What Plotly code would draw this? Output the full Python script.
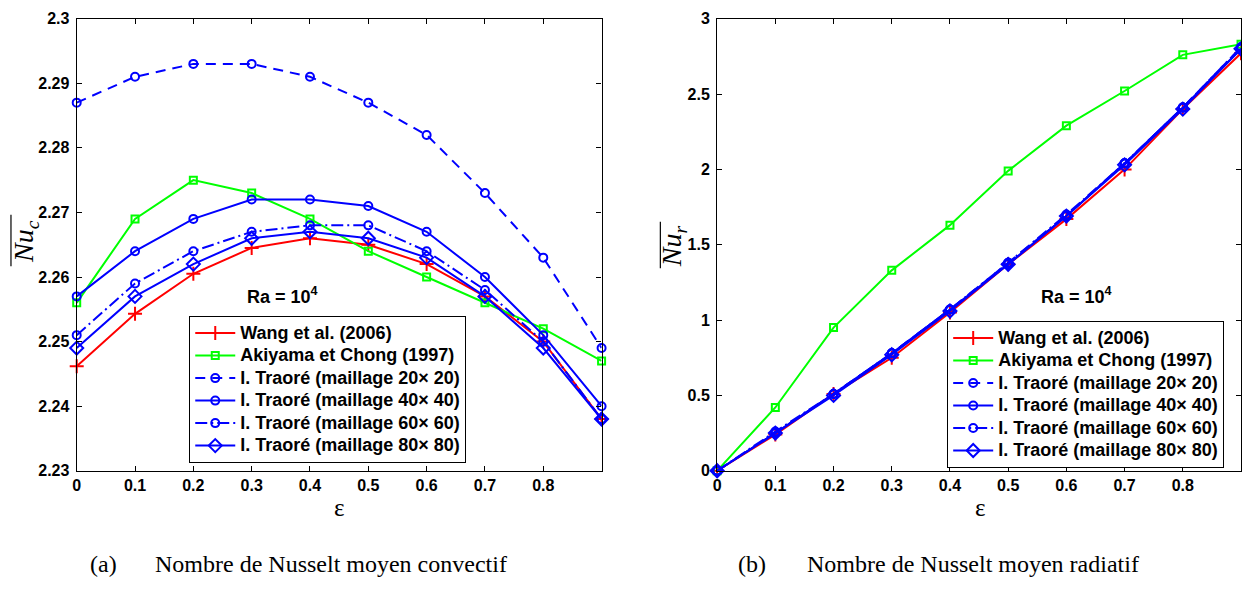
import plotly.graph_objects as go

# ---------------- data ----------------
eps = [0.0, 0.1, 0.2, 0.3, 0.4, 0.5, 0.6, 0.7, 0.8, 0.9]

series_names = [
    "Wang et al. (2006)",
    "Akiyama et Chong (1997)",
    "I. Traoré (maillage 20× 20)",
    "I. Traoré (maillage 40× 40)",
    "I. Traoré (maillage 60× 60)",
    "I. Traoré (maillage 80× 80)",
]

# (a) convective mean Nusselt number
wang_c = [2.2462, 2.2543, 2.2605, 2.2645, 2.2660, 2.2650, 2.2620, 2.2570, 2.2500, 2.2380]
akiyama_c = [2.256, 2.269, 2.275, 2.273, 2.269, 2.264, 2.260, 2.256, 2.252, 2.247]
t20_c = [2.287, 2.291, 2.293, 2.293, 2.291, 2.287, 2.282, 2.273, 2.263, 2.249]
t40_c = [2.257, 2.264, 2.269, 2.272, 2.272, 2.271, 2.267, 2.260, 2.251, 2.240]
t60_c = [2.251, 2.259, 2.264, 2.267, 2.268, 2.268, 2.264, 2.258, 2.250, 2.238]
t80_c = [2.249, 2.257, 2.262, 2.266, 2.267, 2.266, 2.263, 2.257, 2.249, 2.238]

# (b) radiative mean Nusselt number
wang_r = [0.0, 0.24, 0.51, 0.75, 1.05, 1.37, 1.67, 2.00, 2.40, 2.77]
akiyama_r = [0.0, 0.42, 0.95, 1.33, 1.63, 1.99, 2.29, 2.52, 2.76, 2.83]
t20_r = [0.0, 0.25, 0.51, 0.78, 1.07, 1.38, 1.69, 2.04, 2.41, 2.81]
t40_r = [0.0, 0.25, 0.51, 0.78, 1.07, 1.37, 1.69, 2.04, 2.41, 2.80]
t60_r = [0.0, 0.26, 0.51, 0.78, 1.07, 1.38, 1.70, 2.04, 2.41, 2.81]
t80_r = [0.0, 0.25, 0.50, 0.77, 1.06, 1.37, 1.69, 2.03, 2.40, 2.80]

x_ticks = [0, 0.1, 0.2, 0.3, 0.4, 0.5, 0.6, 0.7, 0.8]
x_tick_labels = ["0", "0.1", "0.2", "0.3", "0.4", "0.5", "0.6", "0.7", "0.8"]
yc_ticks = [2.23, 2.24, 2.25, 2.26, 2.27, 2.28, 2.29, 2.30]
yc_tick_labels = ["2.23", "2.24", "2.25", "2.26", "2.27", "2.28", "2.29", "2.3"]
yr_ticks = [0, 0.5, 1, 1.5, 2, 2.5, 3]
yr_tick_labels = ["0", "0.5", "1", "1.5", "2", "2.5", "3"]

# ---------------- styles ----------------
RED, GREEN, BLUE = "#FF0000", "#00FF00", "#0000FF"
styles = [
    dict(color=RED, dash="solid", symbol="cross-thin-open", size=10),
    dict(color=GREEN, dash="solid", symbol="square-open", size=7),
    dict(color=BLUE, dash="10px,7px", symbol="circle-open", size=8),
    dict(color=BLUE, dash="solid", symbol="circle-open", size=8),
    dict(color=BLUE, dash="12px,4px,2px,4px", symbol="circle-open", size=8),
    dict(color=BLUE, dash="solid", symbol="diamond-open", size=10),
]

W, H = 1242, 590
fig = go.Figure()

def bold(lst):
    return ["<b>%s</b>" % s for s in lst]

def add_panel(ys, xa, ya, legend):
    for name, y, st in zip(series_names, ys, styles):
        fig.add_trace(go.Scatter(
            x=eps, y=y, name='<span style="font-size:18px"><b>%s</b></span>' % name,
            mode="lines+markers",
            xaxis=xa, yaxis=ya, legend=legend, cliponaxis=False,
            line=dict(color=st["color"], width=2, dash=st["dash"]),
            marker=dict(symbol=st["symbol"], size=st["size"], color=st["color"],
                        line=dict(width=2, color=st["color"])),
        ))

add_panel([wang_c, akiyama_c, t20_c, t40_c, t60_c, t80_c], "x", "y", "legend")
add_panel([wang_r, akiyama_r, t20_r, t40_r, t60_r, t80_r], "x2", "y2", "legend2")

tickfont = dict(family="Liberation Sans, Arial, sans-serif", size=16, color="black", weight="bold")
axis_common = dict(showline=True, linecolor="black", linewidth=1.2, mirror="ticks",
                   ticks="inside", ticklen=5, tickwidth=1, tickcolor="black",
                   showgrid=False, zeroline=False, tickfont=tickfont)

y_top = 1 - 11 / H
y_bot = 1 - 476.5 / H

fig.update_layout(
    width=W, height=H, autosize=False,
    margin=dict(l=0, r=0, t=0, b=0),
    paper_bgcolor="white", plot_bgcolor="white",
    xaxis=dict(domain=[73 / W, 600 / W], range=[0, 0.9], anchor="y",
               tickvals=x_ticks, ticktext=bold(x_tick_labels), **axis_common),
    yaxis=dict(domain=[y_bot, y_top], range=[2.23, 2.30], anchor="x",
               tickvals=yc_ticks, ticktext=bold(yc_tick_labels), ticklabelstandoff=3, **axis_common),
    xaxis2=dict(domain=[716 / W, 1.0], range=[0, 0.9], anchor="y2",
                tickvals=x_ticks, ticktext=bold(x_tick_labels), **axis_common),
    yaxis2=dict(domain=[y_bot, y_top], range=[0, 3], anchor="x2",
                tickvals=yr_ticks, ticktext=bold(yr_tick_labels), ticklabelstandoff=3, **axis_common),
)

legend_common = dict(
    xanchor="left", yanchor="top", bgcolor="white",
    bordercolor="black", borderwidth=1, itemwidth=40,
    font=dict(family="Liberation Sans, Arial, sans-serif", size=15, color="black"),
    tracegroupgap=0, itemclick=False,
)
fig.update_layout(
    legend=dict(x=186 / W, y=1 - 317 / H, **legend_common),
    legend2=dict(x=947 / W, y=1 - 322 / H, **legend_common),
)

ann_font_b = dict(family="Liberation Sans, Arial, sans-serif", size=18, color="black")
serif = "Liberation Serif, Times New Roman, serif"

annotations = [
    # Ra labels
    dict(x=280 / W, y=1 - 296 / H, text="<b>Ra = 10<sup>4</sup></b>", font=ann_font_b),
    dict(x=1077 / W, y=1 - 296 / H, text="<b>Ra = 10<sup>4</sup></b>", font=ann_font_b),
    # x titles
    dict(x=337 / W, y=1 - 514 / H, text="ε", font=dict(family=serif, size=25, color="black")),
    dict(x=980 / W, y=1 - 514 / H, text="ε", font=dict(family=serif, size=25, color="black")),
    # y titles
    dict(x=21 / W, y=1 - 240 / H, textangle=-90,
         text='<i>Nu<sub>c</sub></i>',
         font=dict(family=serif, size=28, color="black")),
    dict(x=673 / W, y=1 - 245 / H, textangle=-90,
         text='<i>Nu<sub>r</sub></i>',
         font=dict(family=serif, size=28, color="black")),
    # captions
    dict(x=100 / W, y=1 - 573 / H, text="(a)", font=dict(family=serif, size=24, color="black")),
    dict(x=150 / W, y=1 - 573 / H, text="Nombre de Nusselt moyen convectif", xanchor="left",
         font=dict(family=serif, size=24, color="black")),
    dict(x=751 / W, y=1 - 573 / H, text="(b)", font=dict(family=serif, size=24, color="black")),
    dict(x=804 / W, y=1 - 573 / H, text="Nombre de Nusselt moyen radiatif", xanchor="left",
         font=dict(family=serif, size=24, color="black")),
]
for a in annotations:
    base = dict(xref="paper", yref="paper", showarrow=False, xanchor="center", yanchor="middle")
    base.update(a)
    fig.add_annotation(**base)

# overlines of the rotated y titles (decoration)
for x0, ya, yb in [(7, 213, 266), (659, 220, 268)]:
    fig.add_shape(type="line", xref="paper", yref="paper",
                  x0=x0 / W, x1=x0 / W, y0=1 - ya / H, y1=1 - yb / H,
                  line=dict(color="black", width=1.2))

fig.write_html("out.html")
